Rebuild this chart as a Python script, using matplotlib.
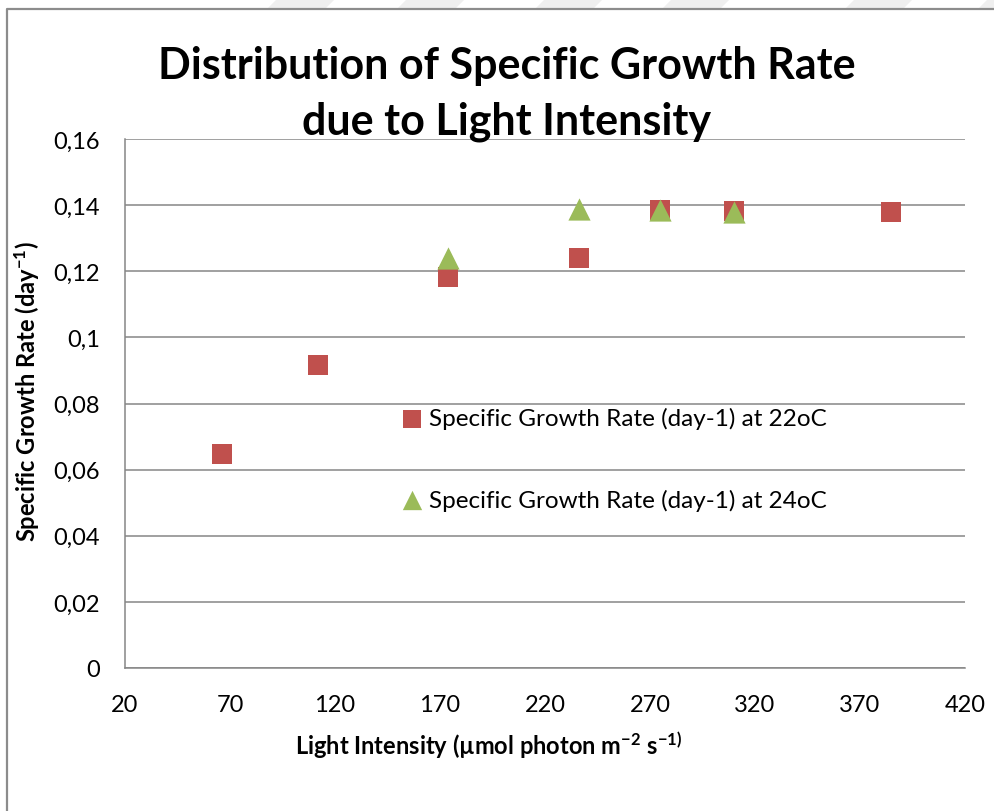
import numpy as np
import matplotlib
matplotlib.use("Agg")
import matplotlib.pyplot as plt
from matplotlib.patches import Polygon
from matplotlib.lines import Line2D
from matplotlib.ticker import FuncFormatter, FixedLocator

plt.rcParams['font.family'] = ['Lato', 'DejaVu Sans']
plt.rcParams['mathtext.fontset'] = 'custom'
plt.rcParams['mathtext.rm'] = 'Lato:bold'
plt.rcParams['mathtext.default'] = 'rm'

# light intensity (umol photon m-2 s-1) vs specific growth rate (day-1)
light_22 = [66, 112, 174, 236, 275, 310, 385]
rate_22 = [0.0647, 0.0917, 0.1183, 0.1240, 0.1386, 0.1383, 0.1379]

light_24 = [174, 236, 275, 310]
rate_24 = [0.1239, 0.1388, 0.1386, 0.1379]

label_22 = "Specific Growth Rate (day-1) at 22oC"
label_24 = "Specific Growth Rate (day-1) at 24oC"

x_ticks = [20, 70, 120, 170, 220, 270, 320, 370, 420]
y_ticks = [0, 0.02, 0.04, 0.06, 0.08, 0.1, 0.12, 0.14, 0.16]

RED = "#C0504D"
GREEN = "#9BBB59"
GRID = "#868686"

fig = plt.figure(figsize=(9.95, 8.12), dpi=100)
ax = fig.add_axes([125 / 995, 1 - 669 / 812, 840 / 995, 529 / 812])

# faint background stripes and the outer chart frame
for x0 in [267, 397, 535, 662, 845, 978]:
    pts = [(x0, 10), (x0 + 58, 10), (x0 + 68, 0), (x0 + 10, 0)]
    fig.patches.append(Polygon([(x / 995, 1 - y / 812) for x, y in pts],
                               closed=True, transform=fig.transFigure,
                               facecolor="#efefef", edgecolor="none", zorder=0))
fig.add_artist(Line2D([7 / 995, 7 / 995, 1.0], [0.0, 1 - 10 / 812, 1 - 10 / 812],
                      transform=fig.transFigure, color="#8c8c8c", lw=1.6))

ax.scatter(light_22, rate_22, marker="s", s=15 ** 2, color=RED,
           linewidths=0, zorder=3, label=label_22)
ax.scatter(light_24, rate_24, marker="^", s=16 ** 2, color=GREEN,
           linewidths=0, zorder=4, label=label_24)

ax.set_xlim(x_ticks[0], x_ticks[-1])
ax.set_ylim(y_ticks[0], y_ticks[-1])
ax.xaxis.set_major_locator(FixedLocator(x_ticks))
ax.yaxis.set_major_locator(FixedLocator(y_ticks))


def comma_fmt(v, pos):
    return f"{round(v, 4):g}".replace(".", ",")


ax.yaxis.set_major_formatter(FuncFormatter(comma_fmt))
ax.xaxis.set_major_formatter(FuncFormatter(lambda v, p: f"{v:g}"))

ax.grid(axis="y", color=GRID, lw=1.1)
ax.set_axisbelow(True)
for side in ["top", "right"]:
    ax.spines[side].set_visible(False)
for side in ["left", "bottom"]:
    ax.spines[side].set_color(GRID)
    ax.spines[side].set_linewidth(1.1)
ax.tick_params(length=0, labelsize=17, pad=18, colors="black")
ax.tick_params(axis="x", pad=19)

ax.set_ylabel(r"Specific Growth Rate (day$^{-1}$)", fontsize=17, fontweight="bold")
ax.yaxis.set_label_coords(-0.099, 0.524)
ax.set_xlabel(r"Light Intensity (µmol photon m$^{-2}$ s$^{-1)}$", fontsize=17,
              fontweight="bold")
ax.xaxis.set_label_coords(0.433, -0.116)

fig.text(507 / 995, 1 - 94 / 812, "Distribution of Specific Growth Rate\ndue to Light Intensity",
         ha="center", va="center", fontsize=31, fontweight="bold", linespacing=1.5)

ax.legend(loc="upper left", bbox_to_anchor=(402 / 995, 1 - 408 / 812),
          bbox_transform=fig.transFigure, frameon=False, fontsize=17.5,
          markerscale=0.87, handlelength=0.8, handletextpad=0.3,
          labelspacing=2.45, borderpad=0, borderaxespad=0)

fig.savefig("out.png", dpi=100)
